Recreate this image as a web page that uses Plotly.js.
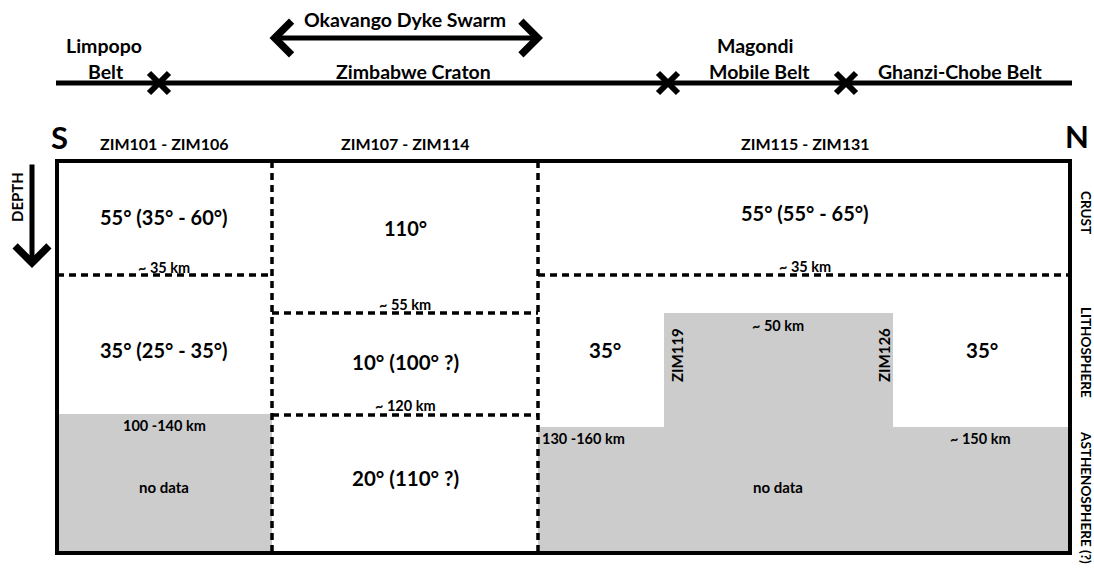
<!DOCTYPE html>
<html><head><meta charset="utf-8">
<script src="https://cdn.plot.ly/plotly-3.0.1.min.js"></script>
<style>html,body{margin:0;padding:0;background:#fff}</style>
</head><body><div id="chart" style="width:1094px;height:569px"></div>
<script>
// ---- content (texts) ----
const terranes = ['Limpopo', 'Belt', 'Zimbabwe Craton', 'Magondi', 'Mobile Belt', 'Ghanzi-Chobe Belt'];
const dykeSwarm = 'Okavango Dyke Swarm';
const stationGroups = ['ZIM101 - ZIM106', 'ZIM107 - ZIM114', 'ZIM115 - ZIM131'];
const layers = ['CRUST', 'LITHOSPHERE', 'ASTHENOSPHERE (?)'];
const crustFast = ['55° (35° - 60°)', '110°', '55° (55° - 65°)'];
const lithoFast = ['35° (25° - 35°)', '10° (100° ?)', '35°', '35°'];
const asthFast = ['20° (110° ?)'];
const depthLabels = ['~ 35 km', '~ 55 km', '~ 120 km', '~ 35 km', '~ 50 km', '100 -140 km', '130 -160 km', '~ 150 km'];
const noDataLabels = ['no data', 'no data'];
const stationMarks = ['ZIM119', 'ZIM126'];

// ---- schematic geometry (diagram units) ----
const profileX = [56, 1072], profileY = 83;
const boundaryX = [159, 668, 846];
const swarmX = [268, 543], swarmY = 38;
const colEdges = [57, 272, 538, 1070];
const boxTop = 161, boxBottom = 553;
const crustBase = 275, midLitho = 313, midLab = 415;
const leftLab = 414, rightLab = 427, upliftTop = 313, upliftX = [664, 893];

const FONT = 'Lato, "Open Sans", sans-serif';
const anns = [];
function T(text, x, y, size, extra) {
  anns.push(Object.assign({text: '<b>' + text + '</b>', x: x, y: y, xref: 'x', yref: 'y',
    showarrow: false, font: {family: FONT, size: size, color: '#000'}, xanchor: 'center', yanchor: 'middle'}, extra || {}));
}

// top profile labels
const topPos = [[104, 45], [106, 71], [413, 71], [755, 45], [759, 71], [960, 71]];
terranes.forEach((s, i) => T(s, topPos[i][0], topPos[i][1], 19.5));
T(dykeSwarm, 405, 19, 19.5);
// S / N
T('S', 59, 137, 31);
T('N', 1077, 136, 31);
// station groups
stationGroups.forEach((s, i) => T(s, [164, 405, 805][i], 143, 16));
// depth
T('DEPTH', 17, 197, 15, {textangle: -90});
// layers
layers.forEach((s, i) => T(s, 1086, [212, 352, 497][i], 13.5, {textangle: 90}));
// crust values
T(crustFast[0], 164, 217, 20);
T(crustFast[1], 405, 228, 20);
T(crustFast[2], 805, 213, 20);
// litho values
T(lithoFast[0], 164, 350, 20);
T(lithoFast[1], 405, 362, 20.5);
T(lithoFast[2], 605, 350, 20.5);
T(lithoFast[3], 982, 350, 20.5);
T(asthFast[0], 405, 478, 20.5);
// depth labels
const dPos = [[164, 267], [405, 304], [405, 405], [805, 266], [778, 325], [164, 425], [583, 438], [980, 438]];
depthLabels.forEach((s, i) => T(s, dPos[i][0], dPos[i][1], 14.5));
T(noDataLabels[0], 164, 487, 15);
T(noDataLabels[1], 778, 487, 15);
stationMarks.forEach((s, i) => T(s, [677, 884][i], 355, 15, {textangle: -90}));

// arrows
anns.push({x: swarmX[1], y: swarmY, ax: swarmX[0], ay: swarmY, xref: 'x', yref: 'y', axref: 'x', ayref: 'y',
  text: '', showarrow: true, arrowside: 'end+start', arrowhead: 4, startarrowhead: 4,
  arrowsize: 1.3, startarrowsize: 1.3, arrowwidth: 5, arrowcolor: '#000'});
anns.push({x: 32, y: 268, ax: 32, ay: 163, xref: 'x', yref: 'y', axref: 'x', ayref: 'y',
  text: '', showarrow: true, arrowhead: 4, arrowsize: 1.3, arrowwidth: 5, arrowcolor: '#000'});

const GRAY = '#cccccc';
const traces = [
  {x: [colEdges[0], colEdges[1], colEdges[1], colEdges[0]], y: [leftLab, leftLab, boxBottom, boxBottom],
   fill: 'toself', fillcolor: GRAY, mode: 'none', type: 'scatter', hoverinfo: 'skip'},
  {x: [colEdges[2], upliftX[0], upliftX[0], upliftX[1], upliftX[1], colEdges[3], colEdges[3], colEdges[2]],
   y: [rightLab, rightLab, upliftTop, upliftTop, rightLab, rightLab, boxBottom, boxBottom],
   fill: 'toself', fillcolor: GRAY, mode: 'none', type: 'scatter', hoverinfo: 'skip'},
  {x: profileX, y: [profileY, profileY], mode: 'lines', line: {color: '#000', width: 5}, type: 'scatter', hoverinfo: 'skip'},
  {x: boundaryX, y: boundaryX.map(() => profileY), mode: 'markers', type: 'scatter', hoverinfo: 'skip',
   marker: {symbol: 'x-thin-open', size: 20, color: '#000', line: {color: '#000', width: 6}}}
];

const dash = {color: '#000', width: 3.5, dash: '7px,5px'};
const shapes = [
  {type: 'line', x0: colEdges[1], x1: colEdges[1], y0: boxTop, y1: boxBottom, line: dash},
  {type: 'line', x0: colEdges[2], x1: colEdges[2], y0: boxTop, y1: boxBottom, line: dash},
  {type: 'line', x0: colEdges[0], x1: colEdges[1], y0: crustBase, y1: crustBase, line: dash},
  {type: 'line', x0: colEdges[2], x1: colEdges[3], y0: crustBase, y1: crustBase, line: dash},
  {type: 'line', x0: colEdges[1], x1: colEdges[2], y0: midLitho, y1: midLitho, line: dash},
  {type: 'line', x0: colEdges[1], x1: colEdges[2], y0: midLab, y1: midLab, line: dash},
  {type: 'rect', x0: colEdges[0], x1: colEdges[3], y0: boxTop, y1: boxBottom, line: {color: '#000', width: 4}}
];

const layout = {
  width: 1094, height: 569, margin: {l: 0, r: 0, t: 0, b: 0},
  paper_bgcolor: '#fff', plot_bgcolor: '#fff', showlegend: false,
  xaxis: {range: [0, 1094], visible: false, fixedrange: true},
  yaxis: {range: [569, 0], visible: false, fixedrange: true},
  annotations: anns, shapes: shapes
};
Plotly.newPlot('chart', traces, layout, {displayModeBar: false, staticPlot: true});
</script></body></html>
